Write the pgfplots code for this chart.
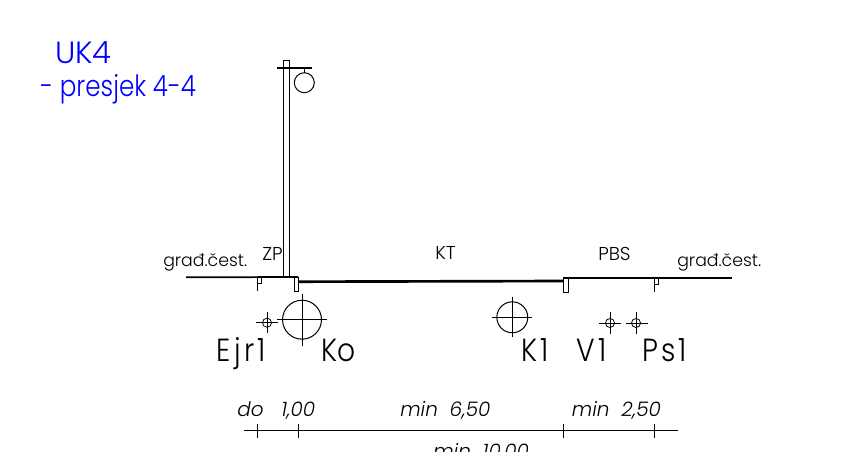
\documentclass[border=0pt]{standalone}
\usepackage{fontspec}
\usepackage{pgfplots}
\pgfplotsset{compat=1.18}
\setmainfont{Poppins Light}
\newfontfamily\titlefont[FakeStretch=0.84]{Poppins Light}
\newfontfamily\plate[FakeStretch=0.88]{Poppins Light}
\newfontfamily\wideplate[FakeStretch=0.88,LetterSpace=10]{Poppins Light}
\newcommand{\lbl}[4]{\node[anchor=base west,inner sep=0pt,font=\fontsize{#3}{#3}\selectfont] at (axis cs:#1,#2) {#4};}
\begin{document}
\begin{tikzpicture}
\useasboundingbox (0,0) rectangle (642.75pt,338.25pt);
\clip (0,0) rectangle (642.75pt,338.25pt);
\begin{axis}[
  at={(0,0)},anchor=south west,
  scale only axis,width=642.75pt,height=338.25pt,
  xmin=0,xmax=857,ymin=0,ymax=451,y dir=reverse,
  hide axis,clip=false,
  cycle list={{black,line width=0.75pt,mark=none}}
]
% road surface
\addplot[black,line width=1.3pt] coordinates {(186,277.3)(298,277)};
\addplot[black,line width=2pt] coordinates {(298,281.7)(563,281)};
\addplot[black,line width=1.3pt] coordinates {(563,277.7)(732,277.7)};
% curbs
\addplot coordinates {(294,277)(294,291.7)(298.5,291.7)(298.5,277)};
\addplot coordinates {(563,278)(563,292)(568,292)(568,278)};
% small posts
\addplot coordinates {(257.3,277)(257.3,291)};
\addplot coordinates {(257.3,283)(261,283)(261,277)};
\addplot coordinates {(654,278)(654,292)};
\addplot coordinates {(654,284)(658,284)(658,278)};
% pole and lamp
\addplot coordinates {(283,277)(283,60.5)(289,60.5)(289,277)};
\addplot[black,line width=1.6pt] coordinates {(277.3,67.7)(311.7,67.7)};
\addplot coordinates {(304.3,67.7)(304.3,72.7)};
\addplot[only marks,mark=o,mark size=7.5pt,black,line width=0.75pt] coordinates {(304.3,82.7)};
% manholes
\addplot[only marks,mark=o,mark size=14.6pt,black,line width=0.75pt] coordinates {(302,319.7)};
\addplot[only marks,mark=o,mark size=11.6pt,black,line width=0.75pt] coordinates {(512.3,317.3)};
\addplot[only marks,mark=o,mark size=3.4pt,black,line width=0.6pt] coordinates {(267,322.7)(610,323)(636,323)};
\addplot coordinates {(277,319.7)(327,319.7)};
\addplot coordinates {(302,294)(302,345.7)};
\addplot coordinates {(492,317.3)(532,317.3)};
\addplot coordinates {(512.3,296.7)(512.3,337)};
\addplot coordinates {(256,322.7)(278,322.7)};
\addplot coordinates {(267,312)(267,333)};
\addplot coordinates {(599,323)(621,323)};
\addplot coordinates {(610,312)(610,334)};
\addplot coordinates {(625.7,323)(647.7,323)};
\addplot coordinates {(636,312)(636,334)};
% dimension line
\addplot coordinates {(244.3,430.7)(677.7,430.7)};
\addplot coordinates {(257,424)(257,438)};
\addplot coordinates {(298.7,424)(298.7,438)};
\addplot coordinates {(563,424)(563,438)};
\addplot coordinates {(654,424)(654,438)};
% title
\begin{scope}[blue]
\lbl{55}{63}{23}{UK4}
\lbl{40}{96.7}{22}{\titlefont - presjek 4-4}
\end{scope}
% labels
\lbl{163}{266.7}{13}{građ.čest.}
\lbl{677}{266.7}{13}{građ.čest.}
\lbl{262}{260.7}{14}{ZP}
\lbl{435}{259}{14}{KT}
\lbl{598}{260.7}{14}{PBS}
\lbl{216.7}{361}{24}{\wideplate Ejr1}
\lbl{321.7}{361}{24}{\plate Ko}
\lbl{521}{361}{24}{\wideplate K1}
\lbl{576}{361}{24}{\wideplate V1}
\lbl{642}{361}{24}{\wideplate Ps1}
\lbl{237}{416.7}{15}{\itshape do\ \ \ 1,00}
\lbl{400}{416.7}{15}{\itshape min\ \ 6,50}
\lbl{571.7}{416.7}{15}{\itshape min\ \ 2,50}
\lbl{433}{458}{15}{\itshape min\ \ 10,00}
\end{axis}
\end{tikzpicture}
\end{document}
